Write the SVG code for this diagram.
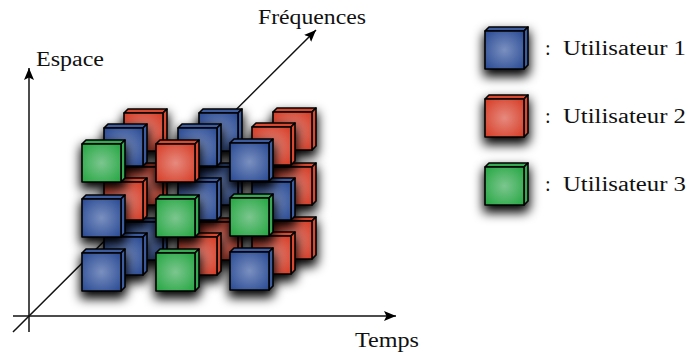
<svg xmlns="http://www.w3.org/2000/svg" width="688" height="358" viewBox="0 0 688 358">
<style>
text{font-family:"Liberation Serif","Times New Roman",serif;font-size:20.5px;fill:#111}
.axis{stroke:#111;stroke-width:1.5;fill:none}
.edge{stroke:#000;stroke-width:1.6;stroke-linejoin:round}
</style>
<defs>
<filter id="ds" filterUnits="userSpaceOnUse" x="-30" y="-30" width="110" height="110" color-interpolation-filters="sRGB">
<feMorphology in="SourceAlpha" operator="dilate" radius="1"/>
<feGaussianBlur stdDeviation="5.2"/>
<feOffset dx="0" dy="6" result="s"/>
<feMerge><feMergeNode in="s"/><feMergeNode in="SourceGraphic"/></feMerge>
</filter>
<marker id="arr" markerUnits="userSpaceOnUse" markerWidth="14" markerHeight="12" refX="12" refY="5" orient="auto"><path d="M0 0L12 5L0 10L2.5 5Z" fill="#000"/></marker>
<radialGradient id="gb" r=".66"><stop offset="0" stop-color="#7a90c0"/><stop offset="1" stop-color="#2c4c95"/></radialGradient>
<radialGradient id="gr" r=".66"><stop offset="0" stop-color="#e68a7f"/><stop offset="1" stop-color="#d63f28"/></radialGradient>
<radialGradient id="gg" r=".66"><stop offset="0" stop-color="#7cc68f"/><stop offset="1" stop-color="#27a844"/></radialGradient>
<g id="blue" filter="url(#ds)"><path class="edge" fill="#3c5ca0" d="M0 4L4 0H43L39 4Z"/><path class="edge" fill="#3c5ca0" d="M39 4L43 0V38L39 42Z"/><rect class="edge" x="0" y="4" width="39" height="38" fill="url(#gb)"/></g>
<g id="red" filter="url(#ds)"><path class="edge" fill="#d9482f" d="M0 4L4 0H43L39 4Z"/><path class="edge" fill="#d9482f" d="M39 4L43 0V38L39 42Z"/><rect class="edge" x="0" y="4" width="39" height="38" fill="url(#gr)"/></g>
<g id="green" filter="url(#ds)"><path class="edge" fill="#36aa52" d="M0 4L4 0H43L39 4Z"/><path class="edge" fill="#36aa52" d="M39 4L43 0V38L39 42Z"/><rect class="edge" x="0" y="4" width="39" height="38" fill="url(#gg)"/></g>
</defs>
<g id="connectors">
<path class="axis" marker-end="url(#arr)" d="M29 332V68"/>
<path class="axis" marker-end="url(#arr)" d="M13 316H396"/>
<path class="axis" marker-end="url(#arr)" d="M13 332L316 30"/>
</g>
<g id="back-layer">
<g id="b00"><use href="#red" x="124" y="109"/></g>
<g id="b01"><use href="#blue" x="199" y="109"/></g>
<g id="b02"><use href="#red" x="273" y="108"/></g>
<g id="b10"><use href="#red" x="124" y="163"/></g>
<g id="b11"><use href="#blue" x="199" y="163"/></g>
<g id="b12"><use href="#red" x="273" y="163"/></g>
<g id="b20"><use href="#blue" x="124" y="218"/></g>
<g id="b21"><use href="#red" x="199" y="218"/></g>
<g id="b22"><use href="#red" x="273" y="217"/></g>
</g>
<g id="middle-layer">
<g id="m00"><use href="#blue" x="104" y="124"/></g>
<g id="m01"><use href="#blue" x="178" y="124"/></g>
<g id="m02"><use href="#red" x="252" y="123"/></g>
<g id="m10"><use href="#red" x="104" y="178"/></g>
<g id="m11"><use href="#blue" x="178" y="178"/></g>
<g id="m12"><use href="#blue" x="252" y="178"/></g>
<g id="m20"><use href="#blue" x="104" y="233"/></g>
<g id="m21"><use href="#red" x="178" y="233"/></g>
<g id="m22"><use href="#red" x="252" y="232"/></g>
</g>
<g id="front-layer">
<g id="f00"><use href="#green" x="82" y="140"/></g>
<g id="f01"><use href="#red" x="156" y="140"/></g>
<g id="f02"><use href="#blue" x="230" y="139"/></g>
<g id="f10"><use href="#blue" x="82" y="195"/></g>
<g id="f11"><use href="#green" x="156" y="195"/></g>
<g id="f12"><use href="#green" x="230" y="194"/></g>
<g id="f20"><use href="#blue" x="82" y="249"/></g>
<g id="f21"><use href="#green" x="156" y="249"/></g>
<g id="f22"><use href="#blue" x="230" y="248"/></g>
</g>
<g id="legend-1"><use href="#blue" x="485" y="27"/><text x="545" y="55">:</text><text x="563" y="55" textLength="123" lengthAdjust="spacingAndGlyphs">Utilisateur 1</text></g>
<g id="legend-2"><use href="#red" x="485" y="95"/><text x="545" y="123">:</text><text x="563" y="123" textLength="123" lengthAdjust="spacingAndGlyphs">Utilisateur 2</text></g>
<g id="legend-3"><use href="#green" x="485" y="163"/><text x="545" y="191">:</text><text x="563" y="191" textLength="123" lengthAdjust="spacingAndGlyphs">Utilisateur 3</text></g>
<g id="labels">
<text x="258" y="24" textLength="108" lengthAdjust="spacingAndGlyphs">Fréquences</text>
<text x="36" y="66" textLength="68" lengthAdjust="spacingAndGlyphs">Espace</text>
<text x="355" y="347" textLength="64" lengthAdjust="spacingAndGlyphs">Temps</text>
</g>
</svg>
